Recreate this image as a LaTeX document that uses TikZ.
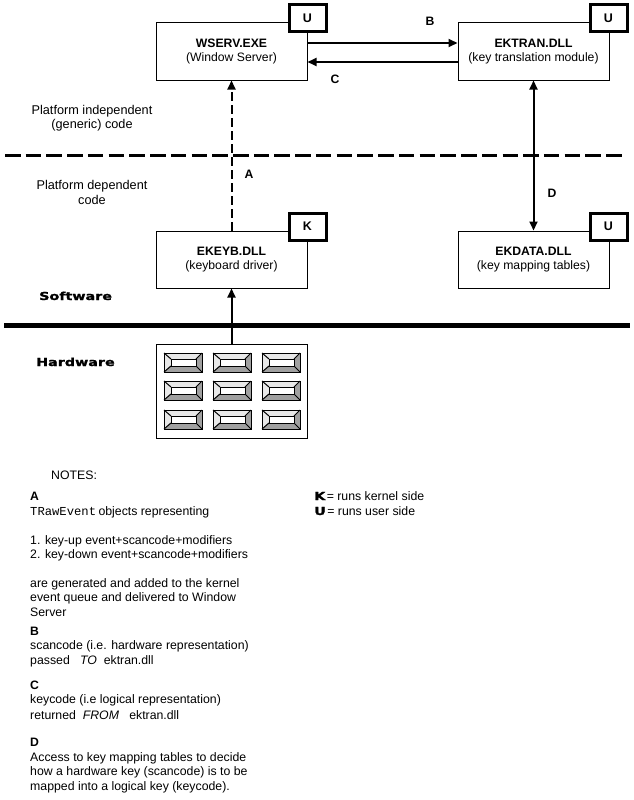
\documentclass[tikz,border=0pt]{standalone}
\usepackage{fontspec}
\setmainfont{Liberation Sans}
\newfontfamily\widebold[FakeStretch=1.3,FakeBold=1.5]{DejaVu Sans Bold}
\newfontfamily\typewr{Liberation Mono}
\usetikzlibrary{arrows.meta}
\definecolor{keylight}{RGB}{232,232,232}
\definecolor{keydark}{RGB}{160,160,160}
\tikzset{
  x=1pt,y=-1pt,
  modbox/.style={draw=black,line width=1pt,fill=white,minimum width=151pt,minimum height=57pt,align=center,font=\fontsize{12.2}{14.5}\selectfont,inner sep=0pt},
  tagbox/.style={draw=black,line width=3pt,fill=white,minimum width=37pt,minimum height=27pt,inner sep=0pt,font=\bfseries\fontsize{12.5}{13}\selectfont},
  flow/.style={line width=2pt,-{Triangle[length=9pt,width=8pt]}},
  flowboth/.style={line width=2pt,{Triangle[length=9pt,width=8pt]}-{Triangle[length=9pt,width=8pt]}},
  dashflow/.style={line width=2pt,dash pattern=on 9pt off 4pt,-{Triangle[length=9pt,width=8pt]}},
  divider/.style={line width=3pt,dash pattern=on 15.5pt off 5.23pt},
  ground/.style={line width=5pt},
  txt/.style={anchor=base west,inner sep=0pt,font=\fontsize{12.3}{13}\selectfont},
  ctr/.style={anchor=base,inner sep=0pt,font=\fontsize{12.7}{13}\selectfont},
  lab/.style={anchor=base,inner sep=0pt,font=\bfseries\fontsize{12.2}{13}\selectfont},
  notehead/.style={anchor=base west,inner sep=0pt,font=\bfseries\fontsize{12.2}{13}\selectfont},
  layer/.style={anchor=base west,inner sep=0pt,font=\widebold\fontsize{11}{13}\selectfont},
  pics/keycap/.style={code={
    \fill[keylight] (0,0) rectangle (38,19);
    \fill[keydark] (38,0) -- (32,6) -- (32,13) -- (6,13) -- (0,19) -- (38,19) -- cycle;
    \draw[line width=1pt] (0,0) -- (7,6) (38,0) -- (32,6) (0,19) -- (7,13) (38,19) -- (32,13);
    \draw[line width=1pt,fill=white] (7,6) rectangle (32,13);
    \draw[line width=1pt] (0,0) rectangle (38,19);
  }}
}
\begin{document}
\begin{tikzpicture}
\useasboundingbox (0,0) rectangle (634,800);
\fill[white] (0,0) rectangle (634,800);

% dividers
\coordinate (dl) at (5,155); \coordinate (dr) at (622,155);
\coordinate (gl) at (4,325); \coordinate (gr) at (630,325);
\draw[divider] (dl) -- (dr);
\draw[ground] (gl) -- (gr);

% modules
\node[modbox] (wserv) at (231.5,51.5) {\textbf{WSERV.EXE}\\(Window Server)};
\node[modbox] (ektran) at (533.5,51.5) {\textbf{EKTRAN.DLL}\\(key translation module)};
\node[modbox] (ekeyb) at (231.5,259.5) {\textbf{EKEYB.DLL}\\(keyboard driver)};
\node[modbox] (ekdata) at (533.5,259.5) {\textbf{EKDATA.DLL}\\(key mapping tables)};
\node[tagbox] (tag1) at (307.5,18.5) {U};
\node[tagbox] (tag2) at (608.5,18.5) {U};
\node[tagbox] (tag3) at (307.5,226.5) {K};
\node[tagbox] (tag4) at (608.5,226.5) {U};

% keyboard
\node[draw=black,line width=1pt,fill=white,minimum width=151pt,minimum height=94pt,inner sep=0pt] (kbd) at (231.5,391) {};
\foreach \kx in {164,213,262}
  \foreach \ky in {353,381,410}
    \pic at (\kx,\ky) {keycap};

% connectors
\draw[flow] ([yshift=8.5pt]wserv.east) -- ([yshift=8.5pt]ektran.west);
\draw[flow] ([yshift=-10.5pt]ektran.west) -- ([yshift=-10.5pt]wserv.east);
\draw[dashflow] (ekeyb.north) -- (wserv.south);
\draw[flowboth] (ektran.south) -- (ekdata.north);
\draw[flow] (kbd.north) -- (ekeyb.south);

% connector labels
\node[lab] (la) at (249,178) {A};
\node[lab] (lb) at (430,26) {B};
\node[lab] (lc) at (335,84) {C};
\node[lab] (ld) at (552,197) {D};

% side text
\node[ctr] (p1) at (92,114) {Platform independent};
\node[ctr] (p2) at (92,128) {(generic) code};
\node[ctr] (p3) at (92,189) {Platform dependent};
\node[ctr] (p4) at (92,204) {code};
\node[layer] (sw) at (39,300) {Software};
\node[layer] (hw) at (36,366) {Hardware};

% notes
\node[txt] (n0) at (51,479) {NOTES:};
\node[notehead] (n1) at (30,500) {A};
\node[txt] (n2) at (30,515) {{\typewr\fontsize{12.2}{13}\selectfont TRawEvent}\kern-1pt\ objects representing};
\node[txt] (n3) at (30,544) {1. key-up event+scancode+modifiers};
\node[txt] (n4) at (30,558) {2. key-down event+scancode+modifiers};
\node[txt] (n5) at (30,587) {are generated and added to the kernel};
\node[txt] (n6) at (30,601) {event queue and delivered to Window};
\node[txt] (n7) at (30,616) {Server};
\node[notehead] (n8) at (30,635) {B};
\node[txt] (n9) at (30,649) {scancode (i.e. hardware representation)};
\node[txt] (n10) at (30,664) {passed\ \ \ \textit{TO}\ \ ektran.dll};
\node[notehead] (n11) at (30,689) {C};
\node[txt] (n12) at (30,703) {keycode (i.e logical representation)};
\node[txt] (n13) at (30,719) {returned\ \ \textit{FROM}\ \ \ ektran.dll};
\node[notehead] (n14) at (30,746) {D};
\node[txt] (n15) at (30,761) {Access to key mapping tables to decide};
\node[txt] (n16) at (30,775) {how a hardware key (scancode) is to be};
\node[txt] (n17) at (30,790) {mapped into a logical key (keycode).};

% legend
\node[txt] (k1) at (314,500) {{\widebold\fontsize{11}{13}\selectfont K}\kern1.5pt= runs kernel side};
\node[txt] (k2) at (314,515) {{\widebold\fontsize{11}{13}\selectfont U}\kern1.5pt= runs user side};
\end{tikzpicture}
\end{document}
